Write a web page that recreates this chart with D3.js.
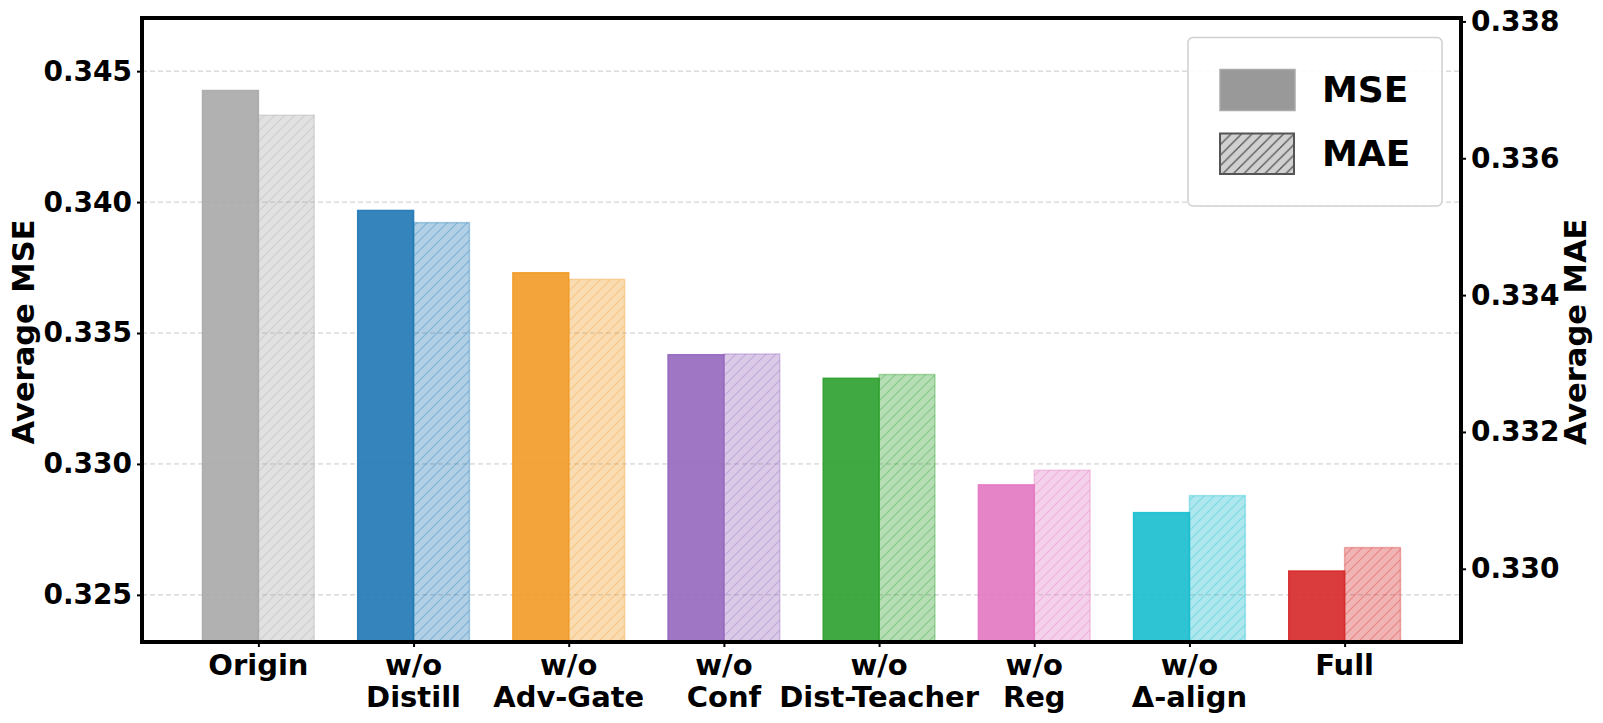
<!DOCTYPE html>
<html>
<head>
<meta charset="utf-8">
<script src="https://cdn.jsdelivr.net/npm/d3@7"></script>
<style>
  html, body { margin: 0; padding: 0; background: #ffffff; }
  svg { display: block; }
  text { font-family: "DejaVu Sans", sans-serif; font-weight: bold; fill: #000; }
</style>
</head>
<body>
<svg id="chart" width="1603" height="723"></svg>
<script>
// ---- data ----
const categories = ["Origin", "w/o\nDistill", "w/o\nAdv-Gate", "w/o\nConf", "w/o\nDist-Teacher", "w/o\nReg", "w/o\nΔ-align", "Full"];
const mseValues = [0.34426, 0.33968, 0.33730, 0.33417, 0.33327, 0.32920, 0.32814, 0.32591];
const maeValues = [0.33663, 0.33506, 0.33423, 0.33314, 0.33284, 0.33144, 0.33107, 0.33031];
const barColors = ["#a9a9a9", "#1f77b4", "#f29b26", "#9467bd", "#2ca02c", "#e377c2", "#17becf", "#d62728"];
const mseTicks = [0.325, 0.330, 0.335, 0.340, 0.345];
const maeTicks = [0.330, 0.332, 0.334, 0.336, 0.338];
const mseDomain = [0.32320, 0.34703];
const maeDomain = [0.32893, 0.33805];
const legendLabels = ["MSE", "MAE"];

// ---- layout ----
const W = 1603, H = 723;
const L = 142, R = 1461, T = 18, B = 642;
const svg = d3.select("#chart");

const x = d3.scaleLinear().domain([-0.75, categories.length - 0.25]).range([L, R]);
const yL = d3.scaleLinear().domain(mseDomain).range([B, T]);
const yR = d3.scaleLinear().domain(maeDomain).range([B, T]);
const bw = 0.36; // bar width in category units

const defs = svg.append("defs");
defs.append("clipPath").attr("id", "plotclip")
  .append("rect").attr("x", L).attr("y", T).attr("width", R - L).attr("height", B - T);

function hatch(id, color, opacity, sw, s) {
  const p = defs.append("pattern").attr("id", id)
    .attr("patternUnits", "userSpaceOnUse").attr("width", s).attr("height", s);
  p.append("path")
    .attr("d", `M0,${s} L${s},0 M${-s/2},${s/2} L${s/2},${-s/2} M${s/2},${s*1.5} L${s*1.5},${s/2}`)
    .attr("stroke", color).attr("stroke-opacity", opacity).attr("stroke-width", sw).attr("fill", "none");
}
barColors.forEach((c, i) => hatch("h" + i, c, 0.35, 1.1, 10));
hatch("hleg", "#555555", 1, 1.3, 10.5);

// ---- grid ----
svg.append("g").selectAll("line").data(mseTicks).join("line")
  .attr("x1", L).attr("x2", R)
  .attr("y1", d => yL(d)).attr("y2", d => yL(d))
  .attr("stroke", "#c8c8c8").attr("stroke-width", 1).attr("stroke-dasharray", "5,3");

// ---- bars ----
const plot = svg.append("g").attr("clip-path", "url(#plotclip)");
categories.forEach((c, i) => {
  const col = barColors[i];
  // MSE bar
  plot.append("rect")
    .attr("x", x(i - bw)).attr("width", x(bw) - x(0))
    .attr("y", yL(mseValues[i])).attr("height", B + 5 - yL(mseValues[i]))
    .attr("fill", col).attr("fill-opacity", 0.9)
    .attr("stroke", col).attr("stroke-opacity", 0.9).attr("stroke-width", 1.5);
  // MAE bar
  const mx = x(i), mw = x(bw) - x(0), my = yR(maeValues[i]), mh = B + 5 - yR(maeValues[i]);
  plot.append("rect")
    .attr("x", mx).attr("width", mw).attr("y", my).attr("height", mh)
    .attr("fill", col).attr("fill-opacity", 0.35);
  plot.append("rect")
    .attr("x", mx).attr("width", mw).attr("y", my).attr("height", mh)
    .attr("fill", `url(#h${i})`)
    .attr("stroke", col).attr("stroke-opacity", 0.35).attr("stroke-width", 1.5);
});

// ---- axes ----
const fs = 29, tfs = 28;
const axL = svg.append("g").attr("transform", `translate(${L},0)`)
  .call(d3.axisLeft(yL).tickValues(mseTicks).tickFormat(d3.format(".3f")).tickSize(5).tickPadding(5));
const axR = svg.append("g").attr("transform", `translate(${R},0)`)
  .call(d3.axisRight(yR).tickValues(maeTicks).tickFormat(d3.format(".3f")).tickSize(5).tickPadding(5));
const axB = svg.append("g").attr("transform", `translate(0,${B})`)
  .call(d3.axisBottom(x).tickValues(d3.range(categories.length)).tickFormat("").tickSize(5));
[axL, axR, axB].forEach(a => {
  a.select(".domain").remove();
  a.selectAll(".tick line").attr("stroke", "#000").attr("stroke-width", 2);
  a.selectAll(".tick text").attr("font-size", tfs).attr("font-family", "DejaVu Sans").attr("font-weight", "bold").attr("fill", "#000");
});

// category labels
const lab = svg.append("g");
categories.forEach((c, i) => {
  const lines = c.split("\n");
  const t = lab.append("text").attr("text-anchor", "middle").attr("font-size", fs);
  lines.forEach((ln, k) => {
    t.append("tspan").attr("x", x(i)).attr("y", 675 + k * 31.5).text(ln);
  });
});

// spines
svg.append("rect").attr("x", L).attr("y", T).attr("width", R - L).attr("height", B - T)
  .attr("fill", "none").attr("stroke", "#000").attr("stroke-width", 4);

// axis titles
svg.append("text").attr("transform", `translate(34,${(T + B) / 2 + 2}) rotate(-90)`)
  .attr("text-anchor", "middle").attr("font-size", 30.5).text("Average MSE");
svg.append("text").attr("transform", `translate(1586,${(T + B) / 2 + 2}) rotate(-90)`)
  .attr("text-anchor", "middle").attr("font-size", 30.5).text("Average MAE");

// ---- legend ----
const lg = svg.append("g");
lg.append("rect").attr("x", 1188).attr("y", 37.5).attr("width", 254).attr("height", 168.5)
  .attr("rx", 5).attr("fill", "#ffffff").attr("fill-opacity", 0.9)
  .attr("stroke", "#d0d0d0").attr("stroke-width", 1.5);
lg.append("rect").attr("x", 1220).attr("y", 69.5).attr("width", 75).attr("height", 41)
  .attr("fill", "#999999").attr("stroke", "#aaaaaa").attr("stroke-width", 1.5);
lg.append("rect").attr("x", 1220).attr("y", 133.5).attr("width", 74).attr("height", 40.5)
  .attr("fill", "#d0d0d0");
lg.append("rect").attr("x", 1220).attr("y", 133.5).attr("width", 74).attr("height", 40.5)
  .attr("fill", "url(#hleg)").attr("stroke", "#555555").attr("stroke-width", 2);
legendLabels.forEach((t, k) => {
  lg.append("text").attr("x", 1322).attr("y", 102 + k * 64).attr("font-size", 36).text(t);
});
</script>
</body>
</html>
